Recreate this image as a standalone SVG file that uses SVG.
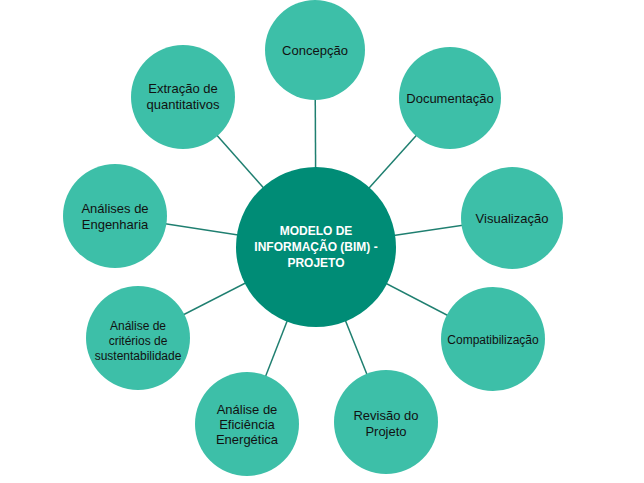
<svg xmlns="http://www.w3.org/2000/svg" width="644" height="483" viewBox="0 0 644 483">
<style>
.o{fill:#3dbfa8}
.t{font-family:"Liberation Sans",Arial,sans-serif;font-size:13px;fill:#111;text-anchor:middle}
.c{font-family:"Liberation Sans",Arial,sans-serif;font-size:12px;font-weight:bold;fill:#fff;text-anchor:middle}
line{stroke:#1f7f70;stroke-width:1.5}
</style>
<rect width="644" height="483" fill="#fff"/>
<g id="connectors">
<line x1="316" y1="247" x2="315" y2="50"/>
<line x1="316" y1="247" x2="450" y2="98"/>
<line x1="316" y1="247" x2="512" y2="218"/>
<line x1="316" y1="247" x2="493" y2="339"/>
<line x1="316" y1="247" x2="386" y2="422"/>
<line x1="316" y1="247" x2="247" y2="424"/>
<line x1="316" y1="247" x2="138" y2="338"/>
<line x1="316" y1="247" x2="115" y2="216"/>
<line x1="316" y1="247" x2="183" y2="97"/>
</g>
<g id="n1"><circle class="o" cx="315" cy="50" r="50"/><text class="t" x="315" y="55">Concepção</text></g>
<g id="n2"><circle class="o" cx="450" cy="98" r="51"/><text class="t" x="450" y="103">Documentação</text></g>
<g id="n3"><circle class="o" cx="512" cy="218" r="51"/><text class="t" x="512" y="223">Visualização</text></g>
<g id="n4"><circle class="o" cx="493" cy="339" r="52"/><text class="t" x="493" y="344" style="font-size:12px">Compatibilização</text></g>
<g id="n5"><circle class="o" cx="386" cy="422" r="52"/><text class="t" x="386" y="420">Revisão do</text><text class="t" x="386" y="436">Projeto</text></g>
<g id="n6"><circle class="o" cx="247" cy="424" r="52"/><text class="t" x="247" y="414">Análise de</text><text class="t" x="247" y="429">Eficiência</text><text class="t" x="247" y="444">Energética</text></g>
<g id="n7"><circle class="o" cx="138" cy="338" r="52"/><text class="t" x="138" y="330" style="font-size:12px">Análise de</text><text class="t" x="138" y="345" style="font-size:12px">critérios de</text><text class="t" x="138" y="360" style="font-size:12px">sustentabilidade</text></g>
<g id="n8"><circle class="o" cx="115" cy="216" r="52"/><text class="t" x="115" y="213">Análises de</text><text class="t" x="115" y="229">Engenharia</text></g>
<g id="n9"><circle class="o" cx="183" cy="97" r="52"/><text class="t" x="183" y="93">Extração de</text><text class="t" x="183" y="109">quantitativos</text></g>
<g id="center"><circle cx="316" cy="247" r="80" fill="#008c76"/><text class="c" x="316" y="235">MODELO DE</text><text class="c" x="316" y="251">INFORMAÇÃO (BIM) -</text><text class="c" x="316" y="267">PROJETO</text></g>
</svg>
